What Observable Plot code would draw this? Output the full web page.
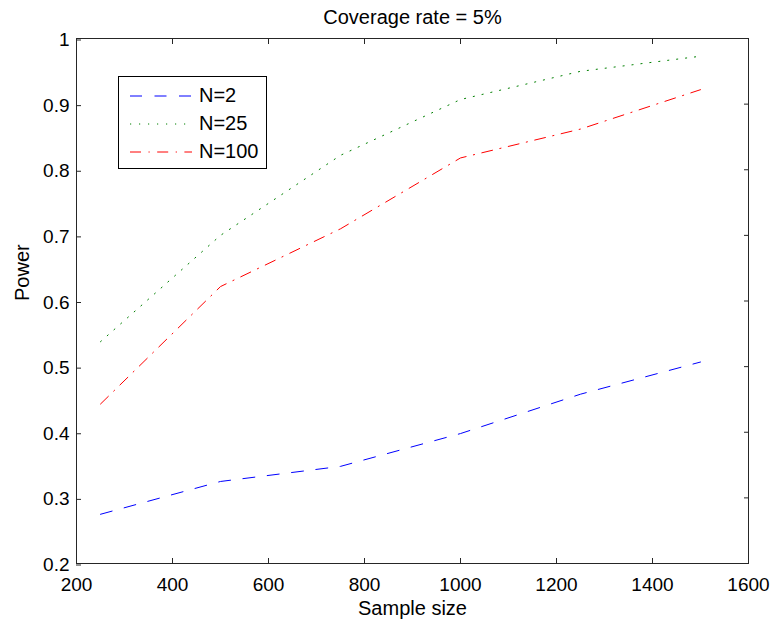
<!DOCTYPE html>
<html>
<head>
<meta charset="utf-8">
<script src="https://cdn.jsdelivr.net/npm/d3@7"></script>
<script src="https://cdn.jsdelivr.net/npm/@observablehq/plot@0.6"></script>
<style>
  html, body { margin: 0; padding: 0; background: #fff; }
  svg { display: block; }
</style>
</head>
<body>
<div id="chart"></div>
<script>
// ---- data ----
const sampleSizes = [250, 500, 750, 1000, 1250, 1500];
const powerN2   = [0.275, 0.325, 0.348, 0.398, 0.458, 0.507];
const powerN25  = [0.538, 0.700, 0.822, 0.907, 0.950, 0.973];
const powerN100 = [0.443, 0.622, 0.710, 0.818, 0.862, 0.922];

const seriesNames = ["N=2", "N=25", "N=100"];
const seriesColors = ["#0000ff", "#008000", "#ff0000"];
const seriesDash = ["12,12.5", "1.2,7.8", "11,7.5,1.2,7.5"];

const xTicks = [200, 400, 600, 800, 1000, 1200, 1400, 1600];
const yTicks = [0.2, 0.3, 0.4, 0.5, 0.6, 0.7, 0.8, 0.9, 1];
const yTickLabels = ["0.2", "0.3", "0.4", "0.5", "0.6", "0.7", "0.8", "0.9", "1"];

const titleText = "Coverage rate = 5%";
const xLabel = "Sample size";
const yLabel = "Power";

// ---- build table ----
const allSeries = [powerN2, powerN25, powerN100];
const rows = [];
allSeries.forEach((vals, i) => {
  vals.forEach((v, j) => rows.push({series: seriesNames[i], x: sampleSizes[j], y: v}));
});

const font = "'Liberation Sans', Arial, Helvetica, sans-serif";
const axisColor = "#262626";

const lineMarks = seriesNames.map((name, i) =>
  Plot.line(rows.filter(d => d.series === name), {
    x: "x", y: "y",
    stroke: seriesColors[i],
    strokeWidth: 1,
    strokeDasharray: seriesDash[i],
    strokeLinejoin: "miter"
  })
);

const svg = Plot.plot({
  width: 773,
  height: 625,
  marginLeft: 76,
  marginRight: 25,
  marginTop: 38,
  marginBottom: 62,
  style: {fontFamily: font, fontSize: "19px", color: "#000", background: "#fff"},
  x: {domain: [200, 1600]},
  y: {domain: [0.2, 1]},
  marks: [
    ...lineMarks,
    Plot.frame({stroke: axisColor, strokeWidth: 1}),
    Plot.axisX(xTicks, {anchor: "bottom", tickSize: -5, tickPadding: 18.5, stroke: axisColor, fill: "#000", fontSize: 19, label: null, tickFormat: d => String(d)}),
    Plot.axisX(xTicks, {anchor: "top", tickSize: -5, stroke: axisColor, label: null, tickFormat: () => ""}),
    Plot.axisY(yTicks, {anchor: "left", tickSize: -5, tickPadding: 12, stroke: axisColor, fill: "#000", fontSize: 19, dy: 1.5, label: null, tickFormat: (d) => yTickLabels[yTicks.indexOf(d)]}),
    Plot.axisY(yTicks, {anchor: "right", tickSize: -5, stroke: axisColor, label: null, tickFormat: () => ""}),
    Plot.text([titleText], {frameAnchor: "top", lineAnchor: "top", dy: -29.2, fontSize: 20, fill: "#000"}),
    Plot.text([xLabel], {frameAnchor: "bottom", lineAnchor: "top", dy: 36.8, fontSize: 20, fill: "#000"}),
    Plot.text([yLabel], {frameAnchor: "left", lineAnchor: "top", rotate: -90, dx: -62.2, fontSize: 20, fill: "#000"})
  ]
});

// ---- legend ----
const lg = d3.select(svg).append("g").attr("class", "legend").attr("text-anchor", "start");
lg.append("rect")
  .attr("x", 118.5).attr("y", 76.5).attr("width", 148).attr("height", 92)
  .attr("fill", "#fff").attr("stroke", "#000").attr("stroke-width", 1);
seriesNames.forEach((name, i) => {
  const cy = 96 + i * 28;
  lg.append("line")
    .attr("x1", 130).attr("x2", 192).attr("y1", cy).attr("y2", cy)
    .attr("stroke", seriesColors[i]).attr("stroke-width", 1)
    .attr("stroke-dasharray", seriesDash[i]);
  lg.append("text")
    .attr("x", 199).attr("y", cy + 5.8)
    .attr("text-anchor", "start")
    .attr("font-family", font).attr("font-size", 20).attr("fill", "#000")
    .text(name);
});

document.getElementById("chart").appendChild(svg);
</script>
</body>
</html>
